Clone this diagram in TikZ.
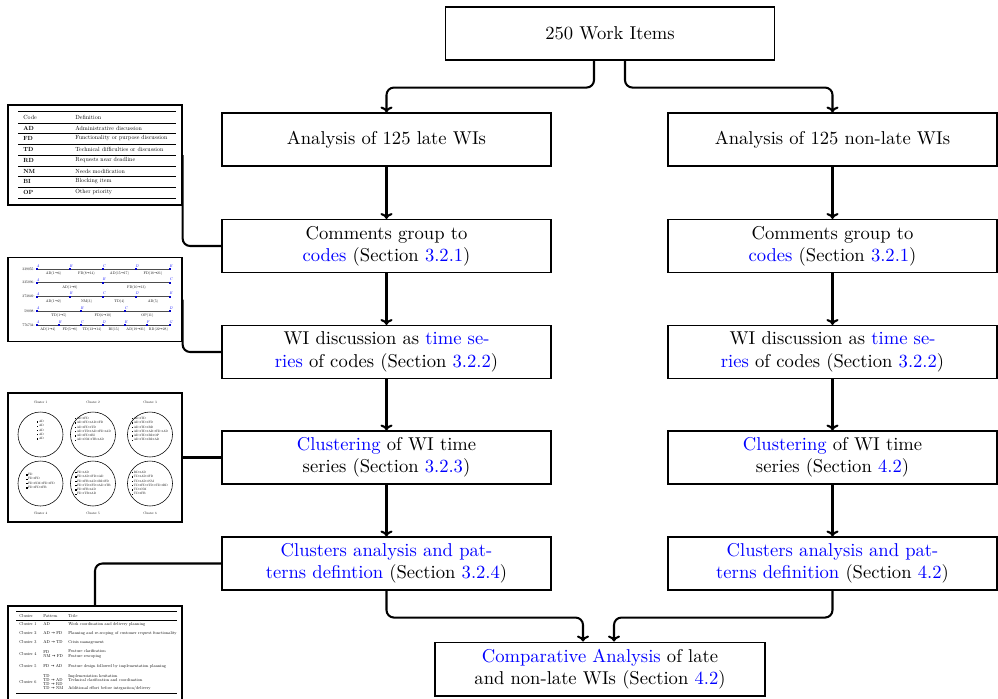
\documentclass[tikz,border=0pt]{standalone}
\usepackage{fontspec}
\newfontfamily\dvfont{DejaVu Sans}
\newfontfamily\lmten{lmroman10-regular.otf}[BoldFont=lmroman10-bold.otf, ItalicFont=lmroman10-italic.otf]
\newcommand\ar{{\dvfont →}}
\usetikzlibrary{calc,arrows.meta}
\begin{document}
\begin{tikzpicture}[x=0.538pt,y=-0.538pt,
  box/.style={draw, line width=0.6pt, minimum width=177pt, minimum height=28.5pt, inner sep=0pt, align=center, font=\normalsize},
  arr/.style={-{To[length=3.2pt,width=6.5pt]}, line width=1.1pt, rounded corners=4pt},
  conn/.style={line width=1.1pt, rounded corners=4pt},
  thumb/.style={draw, line width=0.7pt, inner sep=0pt, fill=white},
  tA/.style={font=\lmten\fontsize{3.2}{3.8}\selectfont, inner sep=0pt, anchor=west},
  tB/.style={font=\lmten\fontsize{2.0}{2.4}\selectfont, inner sep=0pt},
  tC/.style={font=\lmten\fontsize{1.8}{2.3}\selectfont, inner sep=0pt, align=left},
  tCs/.style={font=\lmten\fontsize{1.7}{2.3}\selectfont, inner sep=0pt, align=left},
  tD/.style={font=\lmten\fontsize{2.3}{2.5}\selectfont, inner sep=0pt, anchor=west, align=left},
  tsline/.style={draw=black!70, line width=0.45pt},
  tslet/.style={font=\lmten\fontsize{2.1}{2.4}\selectfont\itshape, text=blue, inner sep=0pt},
  rthick/.style={line width=0.3pt},
  rthin/.style={line width=0.15pt}]
\useasboundingbox (0,0) rectangle (998,698);

% main boxes
\node[box] (top) at (610,33.5) {250 Work Items};
\node[box] (l1) at (386.5,139.5) {Analysis of 125 late WIs};
\node[box] (r1) at (832.5,139.5) {Analysis of 125 non-late WIs};
\node[box] (l2) at (386.5,246) {Comments group to\\ \textcolor{blue}{codes} (Section \textcolor{blue}{3.2.1})};
\node[box] (r2) at (832.5,246) {Comments group to\\ \textcolor{blue}{codes} (Section \textcolor{blue}{3.2.1})};
\node[box] (l3) at (386.5,352) {WI discussion as \textcolor{blue}{time se-}\\ \textcolor{blue}{ries} of codes (Section \textcolor{blue}{3.2.2})};
\node[box] (r3) at (832.5,352) {WI discussion as \textcolor{blue}{time se-}\\ \textcolor{blue}{ries} of codes (Section \textcolor{blue}{3.2.2})};
\node[box] (l4) at (386.5,457.5) {\textcolor{blue}{Clustering} of WI time\\ series (Section \textcolor{blue}{3.2.3})};
\node[box] (r4) at (832.5,457.5) {\textcolor{blue}{Clustering} of WI time\\ series (Section \textcolor{blue}{4.2})};
\node[box] (l5) at (386.5,563.5) {\textcolor{blue}{Clusters analysis and pat-}\\ \textcolor{blue}{terns defintion} (Section \textcolor{blue}{3.2.4})};
\node[box] (r5) at (832.5,563.5) {\textcolor{blue}{Clusters analysis and pat-}\\ \textcolor{blue}{terns definition} (Section \textcolor{blue}{4.2})};
\node[box, minimum width=177.5pt, minimum height=29pt] (bot) at (600,669) {\textcolor{blue}{Comparative Analysis} of late\\ and non-late WIs (Section \textcolor{blue}{4.2})};

% arrows
\draw[arr] ($(top.south)+(-16,0)$) -- ++(0,27) -| (l1.north);
\draw[arr] ($(top.south)+(15,0)$) -- ++(0,27) -| (r1.north);
\foreach \a/\b in {l1/l2,l2/l3,l3/l4,l4/l5,r1/r2,r2/r3,r3/r4,r4/r5}
  \draw[arr] (\a.south) -- (\b.north);
\draw[arr] (l5.south) -- ++(0,27) -| ($(bot.north)+(-17,0)$);
\draw[arr] (r5.south) -- ++(0,27) -| ($(bot.north)+(14,0)$);

% ---------- thumbnail 1: code table
\node[thumb, minimum width=93.6pt, minimum height=53.8pt] (t1) at (95,155) {};
\draw[rthick] (18,111) -- (176,111);
\draw[rthin] (18,123) -- (176,123);
\foreach \y in {133,144,155,166,176,187} \draw[rthin] (18,\y) -- (176,\y);
\draw[rthick] (18,198) -- (176,198);
\node[tA] at (23,117) {Code};
\node[tA] at (75,117) {Definition};
\foreach \y/\c/\d in {128/AD/Administrative discussion, 138.5/FD/Functionality or purpose discussion,
  149.5/TD/Technical difficulties or discussion, 160.5/RD/Requests near deadline,
  171/NM/Needs modification, 181.5/BI/Blocking item, 192.5/OP/Other priority} {
  \node[tA] at (23,\y) {\bfseries\c};
  \node[tA] at (75,\y) {\d};
}

% ---------- thumbnail 2: time series
\node[thumb, minimum width=93.6pt, minimum height=45.2pt] (t2) at (95,299.5) {};
% row 1
\node[tB, anchor=east] at (35,269.3) {339055:};
\draw[tsline] (37,269.3) -- (170,269.3);
\foreach \x/\l in {37/A,70/B,103/C,136/D,170/E} {
  \fill[blue!80!black] (\x-0.8,268.4) rectangle (\x+0.8,270.2);
  \node[tslet] at (\x+1,266.2) {\l};}
\foreach \x/\t in {53.5/AD(1\ar6),86.5/FD(8\ar14),119.5/AD(15\ar17),153/FD(18\ar21)}
  \node[tB] at (\x,273.3) {\t};
% row 2
\node[tB, anchor=east] at (35,282.7) {335096:};
\draw[tsline] (37,282.7) -- (170,282.7);
\foreach \x/\l in {37/A,103/B,170/C} {
  \fill[blue!80!black] (\x-0.8,281.8) rectangle (\x+0.8,283.6);
  \node[tslet] at (\x+1,279.6) {\l};}
\foreach \x/\t in {70/AD(1\ar9),136.5/FD(10\ar13)}
  \node[tB] at (\x,287.5) {\t};
% row 3
\node[tB, anchor=east] at (35,296.7) {373849:};
\draw[tsline] (37,296.7) -- (170,296.7);
\foreach \x/\l in {37/A,70/B,103/C,136/D,170/E} {
  \fill[blue!80!black] (\x-0.8,295.8) rectangle (\x+0.8,297.6);
  \node[tslet] at (\x+1,293.6) {\l};}
\foreach \x/\t in {53.5/AD(1\ar2),86.5/NM(3),119.5/TD(4),153/AD(5)}
  \node[tB] at (\x,301.5) {\t};
% row 4
\node[tB, anchor=east] at (35,311) {59098:};
\draw[tsline] (37,311) -- (170,311);
\foreach \x/\l in {37/A,81/B,125/C,170/D} {
  \fill[blue!80!black] (\x-0.8,310.1) rectangle (\x+0.8,311.9);
  \node[tslet] at (\x+1,307.9) {\l};}
\foreach \x/\t in {59/TD(1\ar5),103/FD(6\ar10),147.5/OP(11)}
  \node[tB] at (\x,315.6) {\t};
% row 5
\node[tB, anchor=east] at (35,325.3) {776734:};
\draw[tsline] (37,325.3) -- (170,325.3);
\foreach \x/\l in {37/A,59/B,81/C,103/D,125/E,147/F,170/G} {
  \fill[blue!80!black] (\x-0.8,324.4) rectangle (\x+0.8,326.2);
  \node[tslet] at (\x+1,322.2) {\l};}
\foreach \x/\t in {48/AD(1\ar4),70/FD(5\ar8),92/TD(12\ar14),114/BI(15),136/AD(19\ar21),158.5/RD(22\ar28)}
  \node[tB] at (\x,330) {\t};

% ---------- thumbnail 3: clusters
\node[thumb, minimum width=93.6pt, minimum height=69.4pt] (t3) at (95,457.5) {};
\foreach \x in {40.5,93,150} {
  \draw[line width=0.3pt] (\x,434.5) circle[radius=22.5];
  \draw[line width=0.3pt] (\x,483.5) circle[radius=22.5];}
\node[tC] at (40.5,402) {Cluster 1};
\node[tC] at (93,402) {Cluster 2};
\node[tC] at (150,402) {Cluster 3};
\node[tC] at (40.5,513) {Cluster 4};
\node[tC] at (93,513) {Cluster 5};
\node[tC] at (150,513) {Cluster 6};
\def\bq{\rule{0.7pt}{0.7pt}\,}
\node[tCs] at (40.5,430) {\bq AD\\ \bq AD\\ \bq AD\\ \bq AD\\ \bq AD};
\node[tCs] at (93,429) {\bq AD\ar FD\\ \bq AD\ar FD\ar AD\ar FD\\ \bq AD\ar FD\ar TD\\ \bq AD\ar TD\ar AD\ar FD\ar AD\\ \bq AD\ar FD\ar BI\\ \bq AD\ar NM\ar TB\ar AD};
\node[tCs] at (150,429) {\bq AD\ar TD\\ \bq AD\ar TD\ar FD\\ \bq AD\ar TD\ar RD\\ \bq AD\ar TD\ar AD\ar TD\ar AD\\ \bq AD\ar TD\ar BI\ar OP\\ \bq AD\ar TD\ar BI\ar AD};
\node[tCs] at (40.5,481) {\bq FD\\ \bq FD\ar FD\\ \bq FD\ar NM\ar FD\ar FD\\ \bq FD\ar FD\ar FB};
\node[tCs] at (93,483) {\bq FD\ar AD\\ \bq FD\ar AD\ar FD\ar AD\\ \bq FD\ar FB\ar AD\ar BI\ar FD\\ \bq FD\ar TD\ar FD\ar AD\ar TB\\ \bq FD\ar FB\ar AD\\ \bq FD\ar TB\ar AD};
\node[tCs] at (150,483) {\bq RD\ar AD\\ \bq TD\ar AD\ar FD\\ \bq TD\ar AD\ar NM\\ \bq TD\ar FD\ar TD\ar TD\ar RD\\ \bq TD\ar NM\\ \bq TD\ar FB};

% ---------- thumbnail 4: cluster table
\node[thumb, minimum width=93.6pt, minimum height=50.6pt] (t4) at (95,653) {};
\draw[rthick] (16,611) -- (177,611);
\draw[rthin] (16,620) -- (177,620);
\draw[rthick] (16,693) -- (177,693);
\node[tD] at (19,616) {Cluster};
\node[tD] at (43,616) {Pattern};
\node[tD] at (68,616) {Title};
\node[tD] at (19,624) {Cluster 1};
\node[tD] at (43,624) {AD};
\node[tD] at (68,624) {Work coordination and delivery planning};
\node[tD] at (19,633) {Cluster 2};
\node[tD] at (43,633) {AD \ar{} FD};
\node[tD] at (68,633) {Planning and re-scoping of customer request functionality};
\node[tD] at (19,642) {Cluster 3};
\node[tD] at (43,642) {AD \ar{} TD};
\node[tD] at (68,642) {Crisis management};
\node[tD] at (19,654) {Cluster 4};
\node[tD] at (43,654) {FD\\ NM \ar{} FD};
\node[tD] at (68,654) {Feature clarification\\ Feature rescoping};
\node[tD] at (19,666) {Cluster 5};
\node[tD] at (43,666) {FD \ar{} AD};
\node[tD] at (68,666) {Feature design followed by implementation planning};
\node[tD] at (19,682) {Cluster 6};
\node[tD, font=\lmten\fontsize{2.3}{2.25}\selectfont] at (43,682) {TD\\ TD \ar{} AD\\ TD \ar{} RD\\ TD \ar{} NM};
\node[tD] at (68,676) {Implementation hesitation};
\node[tD] at (68,680) {Technical clarification and coordination};
\node[tD] at (68,688) {Additional effort before integration/delivery};

% connectors from thumbnails
\draw[conn] (t1.east) |- (l2.west);
\draw[conn] (t2.east) |- (l3.west);
\draw[conn] (t3.east) -- (l4.west);
\draw[conn] (t4.north) |- (l5.west);
\end{tikzpicture}
\end{document}
